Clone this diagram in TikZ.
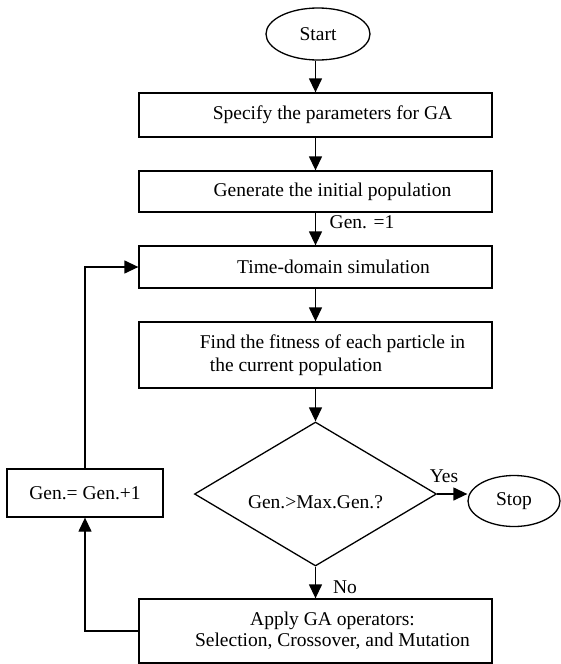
\documentclass[tikz,border=0pt]{standalone}
\usepackage{fontspec}
\setmainfont{Liberation Serif}
\usetikzlibrary{shapes.geometric,arrows.meta}
\begin{document}
\begin{tikzpicture}[x=1pt,y=-1pt, line width=1.3pt,
  >={Triangle[length=14pt,width=13pt]},
  font=\fontsize{19.5}{23}\selectfont,
  box/.style={draw, minimum width=353pt, inner sep=0pt},
  term/.style={draw, ellipse, inner sep=0pt},
  lbl/.style={inner sep=0pt}]
\useasboundingbox (0,0) rectangle (560,664);
\node[term, minimum width=104pt, minimum height=52pt] (start) at (318,34) {Start};
\node[box, minimum height=44pt] (b1) at (315.5,115) {\hspace*{34pt}Specify the parameters for GA};
\node[box, minimum height=41pt] (b2) at (315.5,191.5) {\hspace*{34pt}Generate the initial population};
\node[box, minimum height=42pt] (b3) at (315.5,267) {\hspace*{36pt}Time-domain simulation};
\node[box, minimum height=66pt, align=left] (b4) at (315.5,355) {\hspace*{34pt}Find the fitness of each particle in\\\hspace*{44pt}the current population};
\node[diamond, draw, minimum width=242pt, minimum height=144pt, inner sep=0pt,
  label={[yshift=-8pt]center:Gen.>Max.Gen.?}] (dec) at (315.5,494) {};
\node[term, minimum width=92pt, minimum height=51pt] (stop) at (514,501) {Stop};
\node[box, minimum height=64pt, align=center] (b5) at (315.5,631) {\hspace*{34pt}Apply GA operators:\\[-2pt]\hspace*{34pt}Selection, Crossover, and Mutation};
\node[draw, minimum width=156pt, minimum height=48pt, inner sep=0pt] (gen) at (85,493) {Gen.= Gen.+1};

\node[lbl] (g1) at (362,222) {Gen. =1};
\node[lbl] (yes) at (444,476) {Yes};
\node[lbl] (no) at (345,587) {No};

\draw[->] (b1.north |- start.south) -- (b1.north);
\draw[->] (b1.south) -- (b2.north);
\draw[->] (b2.south) -- (b3.north);
\draw[->] (b3.south) -- (b4.north);
\draw[->] (b4.south) -- (dec.north);
\draw[->] (dec.south) -- (b5.north);
\draw[->] (dec.east) -- (dec.east -| stop.west);
\draw[->] (b5.west) -| (gen.south);
\draw[->] (gen.north) |- (b3.west);
\end{tikzpicture}
\end{document}
